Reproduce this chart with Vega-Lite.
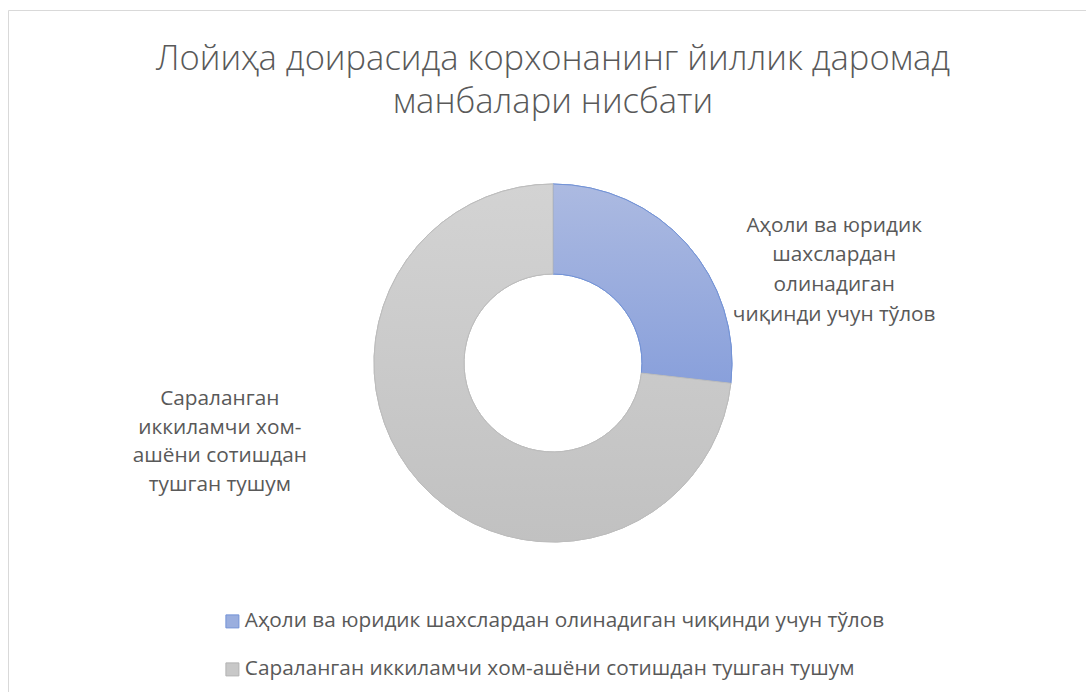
{
  "$schema": "https://vega.github.io/schema/vega-lite/v6.json",
  "autosize": {"type": "none"},
  "padding": {"left": 8, "top": 10, "right": -12, "bottom": -24},
  "width": 1090,
  "height": 706,
  "background": "white",
  "view": {"stroke": "#d9d9d9", "strokeWidth": 1},
  "config": {
    "view": {"stroke": "#d9d9d9", "strokeWidth": 1},
    "style": {"view": {"stroke": "#d9d9d9", "strokeWidth": 1}},
    "font": "Open Sans"
  },
  "title": {
    "text": ["Лойиҳа доирасида корхонанинг йиллик даромад", "манбалари нисбати"],
    "anchor": "middle",
    "frame": "group",
    "orient": "top",
    "font": "Open Sans",
    "fontSize": 34.5,
    "fontWeight": 300,
    "color": "#595959",
    "lineHeight": 43,
    "offset": -110
  },
  "data": {
    "values": [
      {"cat": "Аҳоли ва юридик шахслардан олинадиган чиқинди учун тўлов", "label": "Аҳоли ва юридик\nшахслардан\nолинадиган\nчиқинди учун тўлов", "share": 26.8},
      {"cat": "Сараланган иккиламчи хом-ашёни сотишдан тушган тушум", "label": "Сараланган\nиккиламчи хом-\nашёни сотишдан\nтушган тушум", "share": 73.2}
    ]
  },
  "transform": [
    {"stack": "share", "groupby": [], "sort": [{"field": "cat", "order": "ascending"}], "as": ["v0", "v1"]},
    {"calculate": "(datum.v0 + datum.v1) / 2", "as": "mid"}
  ],
  "layer": [
    {
      "mark": {"type": "arc", "outerRadius": 179, "innerRadius": 89},
      "encoding": {
        "theta": {"field": "v0", "type": "quantitative", "stack": null, "scale": {"domain": [0, 100]}},
        "theta2": {"field": "v1"},
        "color": {
          "field": "cat", "type": "nominal",
          "scale": {"domain": ["Аҳоли ва юридик шахслардан олинадиган чиқинди учун тўлов", "Сараланган иккиламчи хом-ашёни сотишдан тушган тушум"], "range": ["#9aaede", "#c8c8c8"]},
          "legend": {
            "orient": "none", "legendX": 214, "legendY": 601, "direction": "vertical",
            "title": null, "symbolType": "square", "symbolSize": 169, "symbolStrokeWidth": 1,
            "labelFontSize": 20.8, "labelColor": "#595959", "labelFont": "Open Sans",
            "labelOffset": 2, "rowPadding": 26, "labelLimit": 800
          }
        },
        "stroke": {
          "field": "cat", "type": "nominal",
          "scale": {"domain": ["Аҳоли ва юридик шахслардан олинадиган чиқинди учун тўлов", "Сараланган иккиламчи хом-ашёни сотишдан тушган тушум"], "range": ["#7393d6", "#b3b3b3"]}
        }
      }
    },
    {
      "transform": [{"filter": "datum.v0 < 1"}],
      "mark": {
        "type": "arc", "outerRadius": 179, "innerRadius": 89, "stroke": "#7393d6", "strokeWidth": 1,
        "fill": {"gradient": "linear", "x1": 0, "y1": 0, "x2": 0, "y2": 1, "stops": [{"offset": 0, "color": "#acbae1"}, {"offset": 1, "color": "#89a0db"}]}
      },
      "encoding": {
        "theta": {"field": "v0", "type": "quantitative", "stack": null, "scale": {"domain": [0, 100]}},
        "theta2": {"field": "v1"}
      }
    },
    {
      "transform": [{"filter": "datum.v0 > 1"}],
      "mark": {
        "type": "arc", "outerRadius": 179, "innerRadius": 89, "stroke": "#bdbdbd", "strokeWidth": 1,
        "fill": {"gradient": "linear", "x1": 0, "y1": 0, "x2": 0, "y2": 1, "stops": [{"offset": 0, "color": "#d3d3d3"}, {"offset": 1, "color": "#c1c1c1"}]}
      },
      "encoding": {
        "theta": {"field": "v0", "type": "quantitative", "stack": null, "scale": {"domain": [0, 100]}},
        "theta2": {"field": "v1"}
      }
    },
    {
      "transform": [{"filter": "datum.v0 < 1"}],
      "mark": {"type": "text", "radius": 200, "dx": 132, "dy": -4, "align": "center", "baseline": "middle", "lineBreak": "\n", "lineHeight": 29.7, "fontSize": 20.8, "color": "#595959", "font": "Open Sans"},
      "encoding": {
        "theta": {"field": "mid", "type": "quantitative", "stack": null, "scale": {"domain": [0, 100]}},
        "text": {"field": "label"}
      }
    },
    {
      "transform": [{"filter": "datum.v0 > 1"}],
      "mark": {"type": "text", "radius": 200, "dx": -184, "dy": -97, "align": "center", "baseline": "middle", "lineBreak": "\n", "lineHeight": 28.5, "fontSize": 20.8, "color": "#595959", "font": "Open Sans"},
      "encoding": {
        "theta": {"field": "mid", "type": "quantitative", "stack": null, "scale": {"domain": [0, 100]}},
        "text": {"field": "label"}
      }
    }
  ]
}
